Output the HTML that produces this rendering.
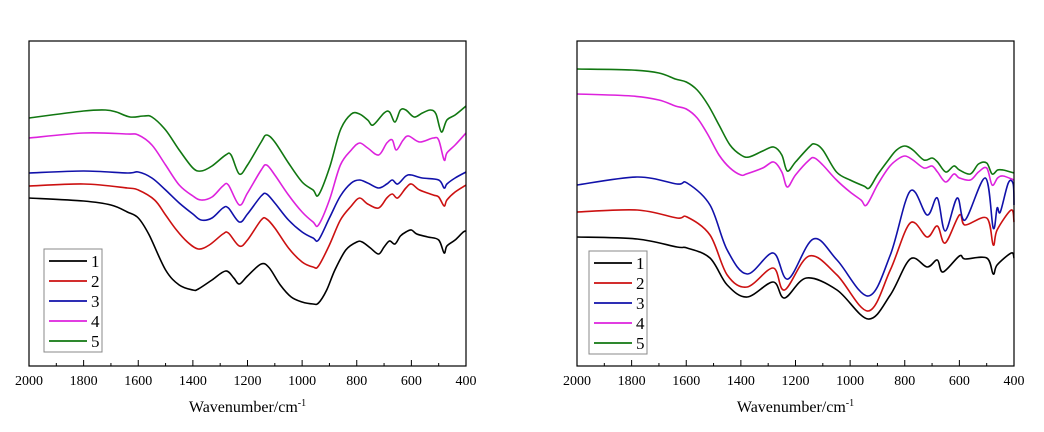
<!DOCTYPE html>
<html><head><meta charset="utf-8"><style>
body{margin:0;background:#fff;}
svg{display:block;font-family:"Liberation Serif",serif;}
</style></head><body>
<svg id="s" width="1044" height="432" xmlns="http://www.w3.org/2000/svg"></svg>
<script>
const NS="http://www.w3.org/2000/svg";
const S=document.getElementById('s');
function el(t,a,txt){const e=document.createElementNS(NS,t);for(const k in a)e.setAttribute(k,a[k]);if(txt!==undefined)e.textContent=txt;S.appendChild(e);return e;}
function parse(s){return s.trim().split(/\s*,\s*/).map(p=>p.split(':').map(Number));}
function path(pts){let d='M'+pts[0][0].toFixed(1)+' '+pts[0][1].toFixed(1);
for(let i=0;i<pts.length-1;i++){const p0=pts[i-1]||pts[i],p1=pts[i],p2=pts[i+1],p3=pts[i+2]||p2;
const c1=[p1[0]+(p2[0]-p0[0])/6,p1[1]+(p2[1]-p0[1])/6],c2=[p2[0]-(p3[0]-p1[0])/6,p2[1]-(p3[1]-p1[1])/6];
d+=' C'+c1.map(v=>v.toFixed(1)).join(' ')+' '+c2.map(v=>v.toFixed(1)).join(' ')+' '+p2[0].toFixed(1)+' '+p2[1].toFixed(1);}
return d;}
const cols=['#000000','#cc1111','#1111aa','#dd22dd','#117711'];
function panel(x0,x1,y0,y1,curves,lx,ly){
 const sx=w=>x0+(2000-w)*(x1-x0)/1600;
 curves.forEach((c,i)=>{const pts=parse(c).map(p=>[sx(p[0]),p[1]]);el('path',{d:path(pts),fill:'none',stroke:cols[i],'stroke-width':1.6});});
 el('rect',{x:x0,y:y0,width:x1-x0,height:y1-y0,fill:'none',stroke:'#000','stroke-width':1.2});
 for(let w=2000;w>=400;w-=100){const x=sx(w);const L=(w%200==0)?6:3;
  el('line',{x1:x,y1:y1,x2:x,y2:y1-L,stroke:'#000','stroke-width':1});
  if(w%200==0)el('text',{x:x,y:385,'font-size':14,'text-anchor':'middle'},String(w));}
 const t=el('text',{x:(x0+x1)/2,y:412,'font-size':16,'text-anchor':'middle'},'Wavenumber/cm');
 const ts=document.createElementNS(NS,'tspan');ts.setAttribute('dy','-6');ts.setAttribute('font-size','10');ts.textContent='-1';t.appendChild(ts);
 el('rect',{x:lx,y:ly,width:58,height:103,fill:'#fff',stroke:'#888','stroke-width':1});
 for(let i=0;i<5;i++){const y=ly+12+i*20;el('line',{x1:lx+5,y1:y,x2:lx+43,y2:y,stroke:cols[i],'stroke-width':1.8});
  el('text',{x:lx+47,y:y+6,'font-size':17},String(i+1));}
}
panel(29,466,41,366,[
"2000:198,1800:201,1700:205,1640:212,1600:218,1560:235,1500:270,1450:285,1400:290,1380:289,1330:280,1280:271,1250:278,1230:284,1200:276,1150:264,1120:268,1080:285,1040:297,1000:302,960:304,940:303,910:290,880:270,840:250,800:242,780:242,750:248,720:254,700:247,680:241,660:244,640:236,620:232,600:230,580:234,540:237,500:240,480:253,470:246,440:240,410:232,400:231",
"2000:186,1800:184,1640:188,1600:190,1540:200,1500:215,1460:230,1420:242,1380:249,1340:245,1290:234,1270:233,1230:246,1200:240,1150:220,1130:219,1100:228,1050:248,1000:262,960:267,940:266,900:245,860:220,820:206,790:198,760:204,720:208,690:198,670:194,650:198,620:188,600:184,570:190,520:195,500:197,480:206,470:200,440:192,400:185",
"2000:173,1800:171,1640:173,1600:172,1550:178,1500:190,1450:203,1400:214,1370:220,1330:218,1290:208,1270:208,1230:222,1200:214,1150:196,1130:194,1100:203,1050:220,1000:232,960:238,940:240,900:218,860:196,820:183,790:180,760:183,720:188,690:184,670:180,650:184,620:176,600:175,560:178,500:180,480:188,470:184,440:178,400:172",
"2000:138,1800:133,1640:134,1600:135,1550:145,1500:165,1450:185,1400:196,1370:200,1330:197,1290:186,1270:185,1230:205,1200:193,1150:170,1130:165,1100:175,1050:195,1000:212,960:222,940:225,900:200,860:165,820:150,790:143,760:148,720:155,690:143,670:140,655:150,630:140,610:136,570:142,520:138,500:140,480:160,470:153,440:145,400:133",
"2000:118,1800:111,1720:110,1680:112,1630:117,1580:116,1550:117,1500:130,1450:150,1400:168,1370:171,1330:166,1280:155,1260:155,1230:174,1200:165,1150:142,1130:135,1100:142,1050:163,1000:182,960:190,940:195,900:168,860:130,820:114,790:114,760:120,740:125,700:113,680:112,660:122,640:110,620:110,590:117,560:113,530:110,510:114,490:132,470:120,440:115,400:106"
],44,249);
panel(577,1014,41,366,[
"2000:237,1780:239,1634:247,1597:248,1513:258,1450:285,1377:297,1282:282,1240:298,1160:278,1048:290,934:319,853:295,780:259,718:267,681:260,660:272,600:256,579:259,500:258,476:274,462:265,410:253,400:258",
"2000:212,1780:210,1634:218,1597:217,1513:235,1450:275,1377:287,1282:268,1240:290,1150:256,1048:275,934:311,853:270,780:223,718:237,681:226,652:243,600:215,579:225,500:218,476:245,462:230,410:210,400:222",
"2000:185,1780:177,1634:184,1597:183,1513:205,1450:250,1377:274,1282:253,1227:279,1135:239,1048:260,934:296,853:255,780:191,718:215,681:198,652:231,608:198,579:220,505:178,476:228,462:208,450:212,421:183,403:184,400:205",
"2000:94,1800:96,1700:100,1640:106,1600:109,1560:118,1520:135,1480:155,1440:168,1400:175,1380:174,1320:168,1280:162,1250:172,1230:187,1200:175,1150:160,1130:158,1100:165,1050:180,1000:192,960:200,940:205,900:185,860:168,830:160,800:156,770:160,730:168,700:166,680:172,650:182,620:174,600:178,560:180,530:172,500:168,480:185,460:178,440:176,400:180",
"2000:69,1800:70,1700:73,1640:79,1600:82,1560:90,1520:105,1480:125,1440:145,1400:155,1370:157,1320:151,1280:147,1250:155,1230:171,1200:162,1150:147,1130:144,1100:150,1050:172,1000:180,950:186,930:188,900:175,860:160,830:150,800:146,770:150,730:160,700:158,680:162,650:172,620:166,600:170,560:174,530:164,500:163,480:174,460:170,440:170,400:173"
],589,251);
</script>
</body></html>
